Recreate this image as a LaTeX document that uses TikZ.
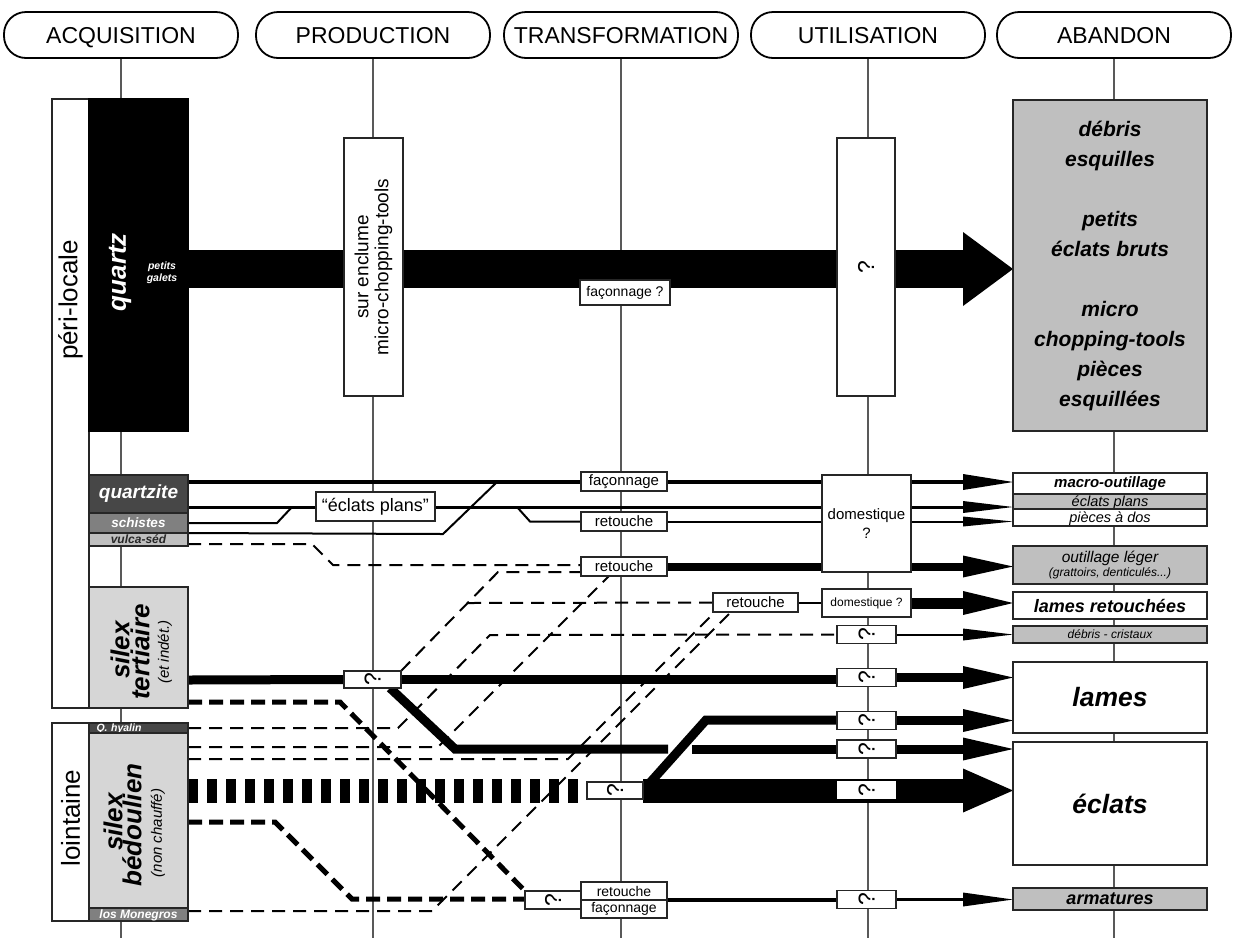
\documentclass[tikz,border=0pt]{standalone}
\usepackage{fontspec}
\setmainfont{Liberation Sans}
\usepackage{graphicx}
\usetikzlibrary{arrows.meta}
\pgfdeclarelayer{back}
\pgfdeclarelayer{flows}
\pgfsetlayers{back,flows,main}
\newcommand{\qmark}{\rotatebox{90}{?}}

\begin{document}
\begin{tikzpicture}[x=1pt,y=-1pt,inner sep=0pt,outer sep=0pt,
phase/.style={draw,line width=1.8pt,rounded corners=22pt,minimum width=234pt,minimum height=46pt,font=\fontsize{23}{23}\selectfont,text height=16.5pt,text depth=0pt},
tbox/.style={draw=black!85,line width=1.8pt,fill=white},
sz/.style 2 args={minimum width=#1pt,minimum height=#2pt},
rms/.style={font=\fontsize{#1}{#1}\selectfont},
its/.style={font=\fontsize{#1}{#1}\selectfont\itshape},
bis/.style={font=\fontsize{#1}{#1}\selectfont\bfseries\itshape},
capht/.style={text height=#1pt,text depth=0pt},
qbox/.style={tbox,sz={59}{18},rms=23},
fl/.style={line width=#1pt},
dl/.style={line width=2pt,dash pattern=on 13pt off 8pt},
tdl/.style={line width=5pt,dash pattern=on 14pt off 7pt},
phaseline/.style={line width=1.2pt,black!65},
abarrow/.style={-{Triangle[length=50pt,width=#1pt,line width=0pt]}}]

\useasboundingbox (0,0) rectangle (1236,938);

\draw (121,35) node[phase] (acq) {ACQUISITION};
\draw (373,35) node[phase] (prod) {PRODUCTION};
\draw (621,35) node[phase] (trans) {TRANSFORMATION};
\draw (868,35) node[phase] (util) {UTILISATION};
\draw (1114,35) node[phase] (aban) {ABANDON};

\draw (70.5,403.5) node[tbox,sz={37}{609}] (peri) {};
\draw (70.5,300) node[rotate=90,rms=26] (perit) {péri-locale};
\draw (138.5,265) node[tbox,draw=black,fill=black,sz={99}{332}] (quartz) {};
\draw (120,272) node[rotate=90,bis=26,text=white] (quartzt) {quartz};
\draw (162,273) node[align=center,text=white,font=\fontsize{10.5}{12}\selectfont\bfseries\itshape] (galets) {petits\\galets};
\draw (138.5,494) node[tbox,fill=black!72,sz={99}{38},bis=19,text=white] (qzite) {quartzite};
\draw (138.5,523) node[tbox,fill=black!50,sz={99}{20},bis=13.5,text=white] (schist) {schistes};
\draw (138.5,539.5) node[tbox,fill=black!25,sz={99}{13},bis=12,capht=8.5,text=black!85] (vulca) {vulca-séd};
\draw (138.5,647.5) node[tbox,fill=black!16,sz={99}{121}] (tert) {};
\draw (120,650) node[rotate=90,bis=26] (tert1) {silex};
\draw (140,652) node[rotate=90,bis=26] (tert2) {tertiaire};
\draw (165,652) node[rotate=90,its=15] (tert3) {(et indét.)};

\draw (70.5,822) node[tbox,sz={37}{198}] (loin) {};
\draw (70.5,818) node[rotate=90,rms=26] (lointt) {lointaine};
\draw (138.5,728) node[tbox,fill=black!72,sz={99}{10},text width=84pt,align=left,bis=10.5,capht=7.5,text=white] (hyal) {Q. hyalin};
\draw (138.5,820.5) node[tbox,fill=black!16,sz={99}{175}] (bedou) {};
\draw (113,822) node[rotate=90,bis=26] (bedou1) {silex};
\draw (132,825) node[rotate=90,bis=26] (bedou2) {bédoulien};
\draw (158,833) node[rotate=90,its=15] (bedou3) {(non chauffé)};
\draw (138.5,914.5) node[tbox,fill=black!50,sz={99}{13},bis=12,capht=8.6,text=white] (moneg) {los Monegros};

\draw (373.5,267) node[tbox,rotate=90,sz={258}{59},align=center,font=\fontsize{19}{20}\selectfont] (encl) {sur enclume\\micro-chopping-tools};
\draw (625,292.5) node[tbox,sz={90}{25},rms=14] (facq) {façonnage ?};
\draw (866,267) node[tbox,sz={58}{258},rms=23] (qbig) {\qmark};

\draw (375.5,506.5) node[tbox,sz={119}{29},rms=18] (eplan) {“éclats plans”};
\draw (624,481.5) node[tbox,sz={86}{19},rms=15] (fac1) {façonnage};
\draw (624,521.5) node[tbox,sz={86}{19},rms=15] (ret1) {retouche};
\draw (624,566.5) node[tbox,sz={86}{19},rms=15] (ret2) {retouche};
\draw (755.5,602.5) node[tbox,sz={85}{19},rms=15] (ret3) {retouche};
\draw (866.5,523.5) node[tbox,sz={89}{97},align=center,font=\fontsize{15}{19}\selectfont] (dom1) {domestique\\?};
\draw (866.5,603) node[tbox,sz={89}{28},rms=12] (dom2) {domestique ?};
\draw (866.5,634.5) node[qbox] (q1) {\qmark};
\draw (866.5,677.5) node[qbox] (q2) {\qmark};
\draw (866.5,720.5) node[qbox] (q3) {\qmark};
\draw (866.5,749) node[qbox] (q4) {\qmark};
\draw (866.5,790) node[qbox,draw=none] (q5) {\qmark};
\draw (866.5,899.5) node[qbox] (q6) {\qmark};
\draw (372.5,679.5) node[qbox,sz={57}{17}] (qprod) {\qmark};
\draw (615,790.5) node[qbox,sz={56}{17}] (qband) {\qmark};
\draw (553,900) node[qbox,sz={56}{18}] (qbot) {\qmark};
\draw (624,891) node[tbox,sz={86}{18},rms=14] (rb1) {retouche};
\draw (624,909) node[tbox,sz={86}{18},rms=14] (rb2) {façonnage};

\draw (1110,265.5) node[tbox,fill=black!25,sz={194}{331},align=center,font=\fontsize{21}{30}\selectfont\bfseries\itshape] (debris) {débris\\esquilles\\[30pt]petits\\éclats bruts\\[30pt]micro\\chopping-tools\\pièces\\esquillées};
\draw (1110,483.5) node[tbox,sz={194}{21},bis=15] (macro) {macro-outillage};
\draw (1110,501.5) node[tbox,fill=black!25,sz={194}{15},its=14.5,capht=10.5] (aeplan) {éclats plans};
\draw (1110,517.5) node[tbox,sz={194}{17},its=14.5,capht=10.5] (dos) {pièces à dos};
\draw (1110,565) node[tbox,fill=black!25,sz={194}{38},align=center,font=\fontsize{12}{14}\selectfont\itshape] (leger) {{\fontsize{15.5}{16}\selectfont outillage léger}\\(grattoirs, denticulés...)};
\draw (1110,605.5) node[tbox,sz={194}{27},bis=18] (lret) {lames retouchées};
\draw (1110,634.5) node[tbox,fill=black!25,sz={194}{17},its=12] (cristaux) {débris - cristaux};
\draw (1110,697.5) node[tbox,sz={194}{71},bis=26.5] (lames) {lames};
\draw (1110,803.5) node[tbox,sz={194}{123},bis=26.5] (eclats) {éclats};
\draw (1110,899) node[tbox,fill=black!25,sz={194}{22},bis=18] (armat) {armatures};

\begin{pgfonlayer}{back}
\foreach \p in {acq,prod,trans,util,aban}
  \draw[phaseline] (\p.south) -- (\p.south |- 0,938);
\end{pgfonlayer}

\begin{pgfonlayer}{flows}
\draw[dl] (vulca.east |- 0,544) -- (312,544) -- (333,565) -- (ret2.west |- 0,565);
\draw[dl] (qprod.north east) -- (498,572) -- (ret2.west |- 0,572);
\draw[dl] (468,603) -- (ret3.west);
\draw[dl] (hyal.east) -- (398,728) -- (490,635) -- (q1.west);
\draw[dl] (bedou.east |- 0,747) -- (438,747) -- (ret2.south -| 609,0);
\draw[dl] (bedou.east |- 0,759) -- (568,759) -- (ret3.south -| 715,0);
\draw[dl] (moneg.east |- 0,911) -- (432,911) -- (ret3.south -| 731,0);
\draw[tdl] (tert.east |- 0,702) -- (340,702) -- (qbot.north west);
\draw[tdl] (bedou.east |- 0,822) -- (275,822) -- (352,899) -- (qbot.west |- 0,899);

\draw[fl=4.5] (qzite.east |- 0,482) -- (fac1.west |- 0,482);
\draw[fl=4.5] (fac1.east |- 0,482) -- (dom1.west |- 0,482);
\draw[fl=3] (qzite.east |- 0,507) -- (eplan.west |- 0,507);
\draw[fl=3] (eplan.east |- 0,507) -- (dom1.west |- 0,507);
\draw[fl=2] (schist.east) -- (277,523) -- (292,507);
\draw[fl=2] (schist.south east) -- (443,534) -- (497,482);
\draw[fl=2] (517,507) -- (530,521.5) -- (ret1.west);
\draw[fl=2] (ret1.east) -- (dom1.west |- ret1.east);
\draw[fl=8] (ret2.east) -- (dom1.west |- ret2.east);
\draw[fl=2] (ret3.east) -- (dom2.west |- ret3.east);
\draw[fl=9] (tert.east |- 0,680) -- (qprod.west);
\draw[fl=9] (qprod.east) -- (q2.west |- qprod.east);
\draw[fl=9] (qprod.south -| 390,0) -- (455,749) -- (668,749);
\draw[fl=9] (692,749) -- (q4.west);
\draw[fl=9] (qband.east) -- (706,720) -- (q3.west |- 0,720);
\draw[line width=24pt,dash pattern=on 10pt off 9pt] (bedou.east |- 0,791) -- (qband.west |- 0,791);
\draw[fl=3.5] (rb1.south east) -- (q6.west |- 0,900);

\draw[fl=38,abarrow={74}] (quartz.east |- 0,269) -- (debris.west |- 0,269);
\draw[fl=4.5,abarrow={16}] (dom1.east |- 0,482) -- (macro.west |- 0,482);
\draw[fl=3,abarrow={12}] (dom1.east |- 0,507) -- (aeplan.west |- 0,507);
\draw[fl=2,abarrow={10}] (dom1.east |- 0,521.5) -- (dos.west |- 0,521.5);
\draw[fl=8,abarrow={22}] (dom1.east |- 0,566.5) -- (leger.west |- 0,566.5);
\draw[fl=11,abarrow={24}] (dom2.east) -- (lret.west |- dom2.east);
\draw[fl=2,abarrow={12}] (q1.east) -- (cristaux.west);
\draw[fl=9,abarrow={23}] (q2.east) -- (lames.west |- q2.east);
\draw[fl=9,abarrow={23}] (q3.east) -- (lames.west |- q3.east);
\draw[fl=9,abarrow={23}] (q4.east) -- (eclats.west |- q4.east);
\draw[fl=24,abarrow={44}] (qband.east) -- (eclats.west |- qband.east);
\draw[fl=3.5,abarrow={14}] (q6.east) -- (armat.west |- q6.east);
\end{pgfonlayer}
\end{tikzpicture}
\end{document}
